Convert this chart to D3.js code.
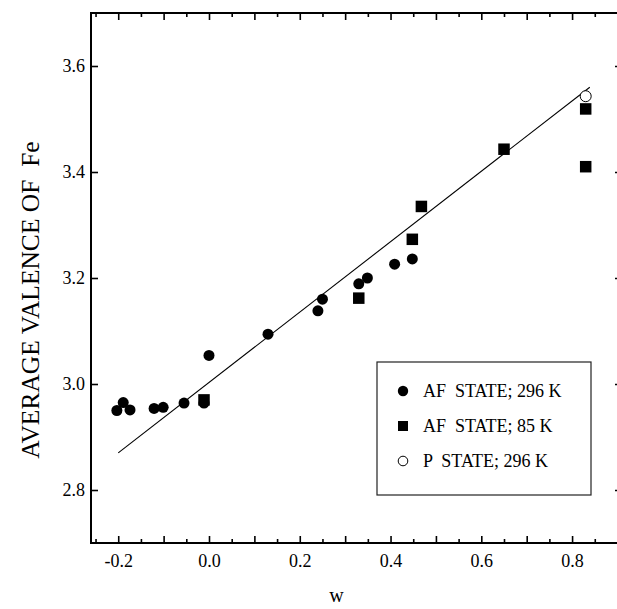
<!DOCTYPE html>
<html>
<head>
<meta charset="utf-8">
<script src="https://cdn.jsdelivr.net/npm/d3@7"></script>
<style>
  html, body { margin: 0; padding: 0; background: #fff; }
  svg text { font-family: "Liberation Serif", "Times New Roman", serif; fill: #000; }
</style>
</head>
<body>
<svg id="chart" width="617" height="609"></svg>
<script>
// ---- data ----
const afRoomW = [-0.203, -0.189, -0.174, -0.121, -0.101, -0.055, -0.011, 0.000, 0.130, 0.240, 0.250, 0.330, 0.349, 0.409, 0.448];
const afRoomV = [2.950, 2.965, 2.951, 2.954, 2.956, 2.964, 2.964, 3.054, 3.094, 3.138, 3.160, 3.189, 3.200, 3.226, 3.236];
const afLowW = [-0.011, 0.330, 0.448, 0.468, 0.650, 0.830, 0.830];
const afLowV = [2.970, 3.162, 3.273, 3.335, 3.443, 3.519, 3.410];
const pRoomW = [0.830];
const pRoomV = [3.543];
const fitW = [-0.200, 0.839];
const fitV = [2.870, 3.560];
const xTickLabels = [-0.2, 0.0, 0.2, 0.4, 0.6, 0.8];
const yTickLabels = [2.8, 3.0, 3.2, 3.4, 3.6];
const legendLabels = ["AF  STATE; 296 K", "AF  STATE; 85 K", "P  STATE; 296 K"];
const xTitle = "w";
const yTitle = "AVERAGE VALENCE OF  Fe";

// ---- scales ----
const svg = d3.select("#chart");
const x = d3.scaleLinear().domain([-0.26, 0.91]).range([91, 622]);
const y = d3.scaleLinear().domain([2.7, 3.7]).range([543, 13]);
const X0 = x.range()[0], X1 = x.range()[1], Y0 = y.range()[1], Y1 = y.range()[0];
const fmt = d => d3.format(".1f")(d).replace("\u2212", "-");

const xMinor = d3.range(-25, 91, 5).map(d => d / 100);
const isMajor = d => Math.abs(Math.round(d * 100)) % 10 === 0;

// ticks (inward) - bottom & top
function xTicks(g, axisFn, y0, dir) {
  const ax = axisFn(x).tickValues(xMinor).tickSizeOuter(0).tickFormat("");
  g.attr("transform", `translate(0,${y0})`).call(ax);
  g.select(".domain").remove();
  g.selectAll(".tick line")
    .attr("y2", d => dir * (isMajor(d) ? 7 : 4))
    .attr("stroke", "#000").attr("stroke-width", 1.6);
}
xTicks(svg.append("g"), d3.axisBottom, Y1, -1);
xTicks(svg.append("g"), d3.axisTop, Y0, 1);

// x labels
const xLab = svg.append("g").attr("transform", `translate(0,${Y1})`)
  .call(d3.axisBottom(x).tickValues(xTickLabels).tickSize(0).tickPadding(11).tickFormat(fmt));
xLab.select(".domain").remove();
xLab.selectAll("text").attr("font-size", 18).style("font-family", '"Liberation Serif", serif');

// y ticks left (inward) with labels
const yL = svg.append("g").attr("transform", `translate(${X0},0)`)
  .call(d3.axisLeft(y).tickValues(yTickLabels).tickSizeInner(-7).tickSizeOuter(0).tickPadding(6).tickFormat(fmt));
yL.select(".domain").remove();
yL.selectAll(".tick line").attr("stroke", "#000").attr("stroke-width", 1.6);
yL.selectAll("text").attr("font-size", 18).style("font-family", '"Liberation Serif", serif');

// y ticks right (inward)
const yR = svg.append("g").attr("transform", `translate(${X1},0)`)
  .call(d3.axisRight(y).tickValues(yTickLabels).tickSizeInner(-7).tickSizeOuter(0).tickFormat(""));
yR.select(".domain").remove();
yR.selectAll(".tick line").attr("stroke", "#000").attr("stroke-width", 1.6);

// frame
svg.append("rect").attr("x", X0).attr("y", Y0).attr("width", X1 - X0).attr("height", Y1 - Y0)
  .attr("fill", "none").attr("stroke", "#000").attr("stroke-width", 2);

// fit line
const line = d3.line().x(d => x(d[0])).y(d => y(d[1]));
svg.append("path").datum(d3.zip(fitW, fitV)).attr("d", line)
  .attr("fill", "none").attr("stroke", "#000").attr("stroke-width", 1.1);

// points
svg.append("g").selectAll("circle").data(d3.zip(afRoomW, afRoomV)).join("circle")
  .attr("cx", d => x(d[0])).attr("cy", d => y(d[1])).attr("r", 5.5).attr("fill", "#000");
const sq = 11.5;
svg.append("g").selectAll("rect").data(d3.zip(afLowW, afLowV)).join("rect")
  .attr("x", d => x(d[0]) - sq / 2).attr("y", d => y(d[1]) - sq / 2)
  .attr("width", sq).attr("height", sq).attr("fill", "#000");
svg.append("g").selectAll("circle").data(d3.zip(pRoomW, pRoomV)).join("circle")
  .attr("cx", d => x(d[0])).attr("cy", d => y(d[1])).attr("r", 5.5)
  .attr("fill", "#fff").attr("stroke", "#000").attr("stroke-width", 1);

// legend
const lg = svg.append("g");
lg.append("rect").attr("x", 377).attr("y", 362).attr("width", 214).attr("height", 133)
  .attr("fill", "#fff").attr("stroke", "#222").attr("stroke-width", 1.2);
const rowY = [390, 425, 460];
lg.append("circle").attr("cx", 403).attr("cy", rowY[0] + 1).attr("r", 5.2).attr("fill", "#000");
lg.append("rect").attr("x", 398).attr("y", rowY[1] - 4).attr("width", 10).attr("height", 10).attr("fill", "#000");
lg.append("circle").attr("cx", 403).attr("cy", rowY[2] + 1).attr("r", 4.8)
  .attr("fill", "#fff").attr("stroke", "#000").attr("stroke-width", 1);
lg.selectAll("text").data(legendLabels).join("text")
  .attr("x", 423).attr("y", (d, i) => rowY[i] + 7)
  .attr("font-size", 18).style("white-space", "pre").attr("xml:space", "preserve")
  .text(d => d);

// axis titles
svg.append("text").attr("x", (X0 + X1) / 2 - 20).attr("y", 602)
  .attr("text-anchor", "middle").attr("font-size", 20).text(xTitle);
svg.append("text").attr("transform", `translate(39,300) rotate(-90)`)
  .attr("text-anchor", "middle").attr("font-size", 25.5)
  .style("white-space", "pre").attr("xml:space", "preserve").text(yTitle);
</script>
</body>
</html>
